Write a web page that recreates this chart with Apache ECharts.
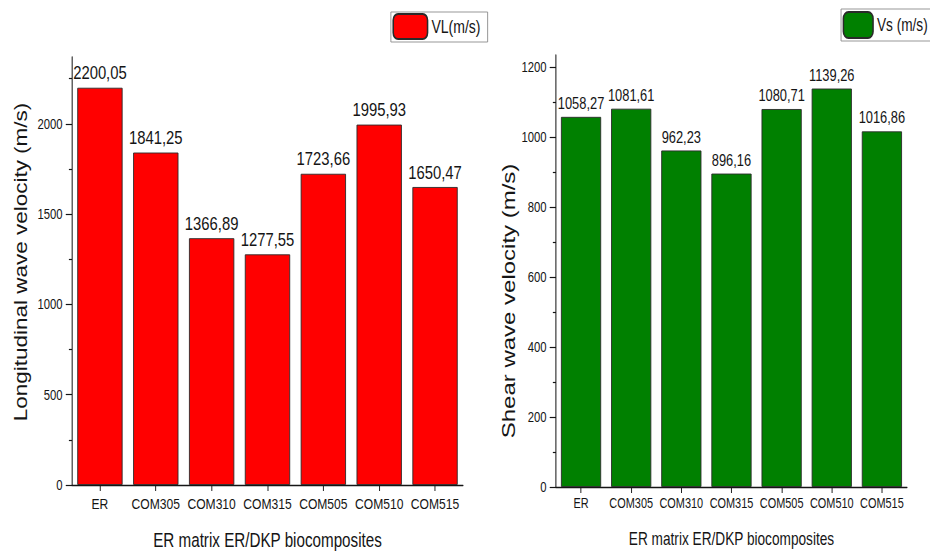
<!DOCTYPE html>
<html>
<head>
<meta charset="utf-8">
<script src="https://cdn.jsdelivr.net/npm/echarts@6/dist/echarts.min.js"></script>
<style>
  html, body { margin: 0; padding: 0; background: #fff; overflow: hidden; width: 930px; height: 555px; }
  /* the plot is laid out wide, then squeezed horizontally to the page width */
  #chart { width: 1192px; height: 555px; transform: scaleX(0.78020); transform-origin: 0 0; }
</style>
</head>
<body>
<div id="chart"></div>
<script>
const categories = ['ER', 'COM305', 'COM310', 'COM315', 'COM505', 'COM510', 'COM515'];
const longitudinal = [2200.05, 1841.25, 1366.89, 1277.55, 1723.66, 1995.93, 1650.47];
const shear = [1058.27, 1081.61, 962.23, 896.16, 1080.71, 1139.26, 1016.86];
const vlMajorTicks = [0, 500, 1000, 1500, 2000];
const vlMinorTicks = [250, 750, 1250, 1750, 2250];
const vsMajorTicks = [0, 200, 400, 600, 800, 1000, 1200];
const vsMinorTicks = [100, 300, 500, 700, 900, 1100];

const FONT = '"Liberation Sans", Arial, sans-serif';
const INK = '#151515';
const fmt = p => p.value.toFixed(2).replace('.', ',');

function xAxisFor(grid, labelSize, nameSize, gap) {
  return {
    type: 'category', gridIndex: grid, data: categories, boundaryGap: true,
    name: 'ER matrix ER/DKP biocomposites', nameLocation: 'middle', nameGap: gap,
    nameTextStyle: { fontFamily: FONT, fontSize: nameSize, color: INK },
    axisLine: { show: true, lineStyle: { color: INK, width: 1.3 } },
    axisTick: { show: true, alignWithLabel: true, length: 6, lineStyle: { color: INK, width: 1.2 } },
    axisLabel: { fontFamily: FONT, fontSize: labelSize, color: INK, margin: 10, interval: 0 },
    splitLine: { show: false }
  };
}

function yAxisPair(grid, max, major, minor, title, titleSize, gap, pad) {
  return [{
    type: 'value', gridIndex: grid, min: 0, max: max,
    name: title, nameLocation: 'middle', nameRotate: 90, nameGap: gap,
    nameTextStyle: { fontFamily: FONT, fontSize: titleSize, color: INK, padding: pad },
    axisLine: { show: true, lineStyle: { color: INK, width: 1.3 } },
    axisTick: { show: true, inside: false, length: 8, customValues: major, lineStyle: { color: INK, width: 1.2 } },
    axisLabel: { fontFamily: FONT, fontSize: 14.5, color: INK, margin: 12, customValues: major, formatter: v => String(v) },
    splitLine: { show: false }
  }, {
    type: 'value', gridIndex: grid, min: 0, max: max, position: 'left',
    axisLine: { show: false },
    axisTick: { show: true, inside: false, length: 4, customValues: minor, lineStyle: { color: INK, width: 1.2 } },
    axisLabel: { show: false },
    splitLine: { show: false }
  }];
}

const chart = echarts.init(document.getElementById('chart'), null, { renderer: 'svg' });
chart.setOption({
  backgroundColor: '#fff',
  animation: false,
  grid: [
    { left: 92.3, right: 598.6, top: 57, bottom: 70 },
    { left: 712.6, right: 29.5, top: 55, bottom: 68 }
  ],
  legend: [
    {
      data: ['VL(m/s)'], left: 501, top: 12, orient: 'horizontal', selectedMode: false,
      itemWidth: 44, itemHeight: 25, padding: [1, 9, 2, 2],
      borderColor: '#8a8a8a', borderWidth: 1,
      textStyle: { fontFamily: FONT, fontSize: 18, color: INK }
    },
    {
      data: ['Vs (m/s)'], left: 1078, top: 9, orient: 'horizontal', selectedMode: false,
      itemWidth: 38, itemHeight: 26, padding: [2, 9, 2, 2],
      borderColor: '#8a8a8a', borderWidth: 1,
      textStyle: { fontFamily: FONT, fontSize: 17.5, color: INK }
    }
  ],
  xAxis: [xAxisFor(0, 15.5, 19.5, 45), xAxisFor(1, 14, 17.5, 43)],
  yAxis: [
    ...yAxisPair(0, 2370, vlMajorTicks, vlMinorTicks, 'Longitudinal wave velocity (m/s)', 22.5, 54, [0, 0, 0, 18]),
    ...yAxisPair(1, 1235, vsMajorTicks, vsMinorTicks, 'Shear wave velocity (m/s)', 24, 35, [0, 60, 0, 0])
  ],
  series: [
    {
      name: 'VL(m/s)', type: 'bar', xAxisIndex: 0, yAxisIndex: 0, data: longitudinal,
      barCategoryGap: '19%',
      itemStyle: { color: '#ff0000', borderColor: '#2a2a2a', borderWidth: 1 },
      label: { show: true, position: 'top', distance: 5, formatter: fmt, fontFamily: FONT, fontSize: 19, color: INK }
    },
    {
      name: 'Vs (m/s)', type: 'bar', xAxisIndex: 1, yAxisIndex: 2, data: shear,
      barCategoryGap: '20%',
      itemStyle: { color: '#008000', borderColor: '#2a2a2a', borderWidth: 1 },
      label: { show: true, position: 'top', distance: 5, formatter: fmt, fontFamily: FONT, fontSize: 16.5, color: INK }
    }
  ]
});
</script>
</body>
</html>
